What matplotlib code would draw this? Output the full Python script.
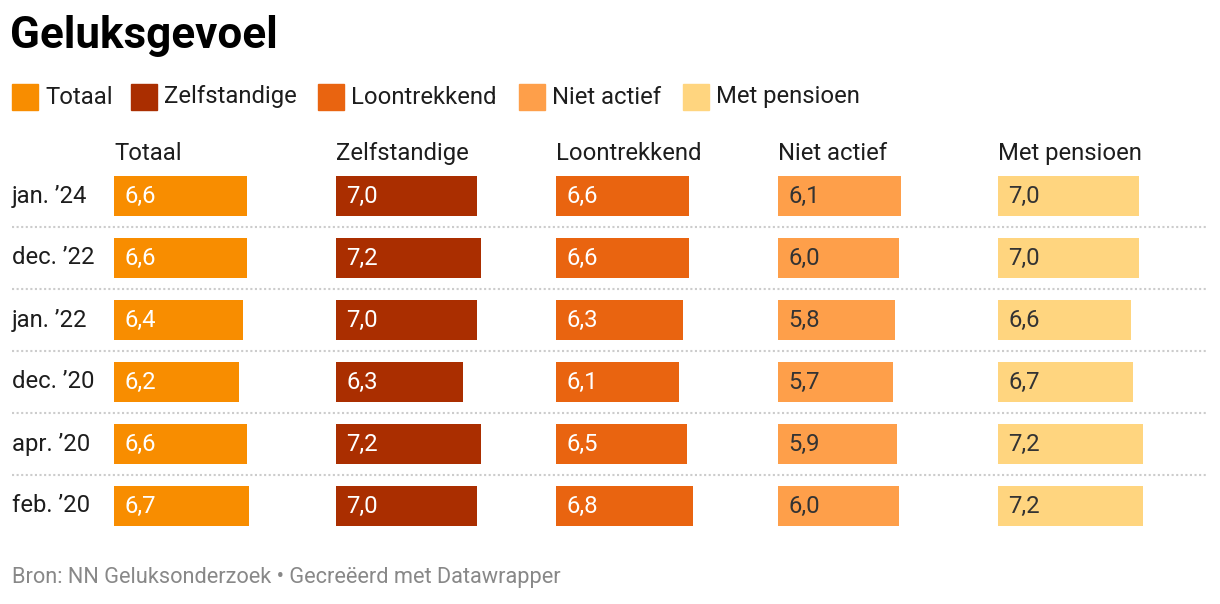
import matplotlib.pyplot as plt
from matplotlib.patches import Rectangle

plt.rcParams['font.family'] = ['Roboto', 'DejaVu Sans']

# Gegevens
perioden = ["jan. \u201924", "dec. \u201922", "jan. \u201922", "dec. \u201920", "apr. \u201920", "feb. \u201920"]
groepen = ["Totaal", "Zelfstandige", "Loontrekkend", "Niet actief", "Met pensioen"]
totaal = [6.6, 6.6, 6.4, 6.2, 6.6, 6.7]
zelfstandige = [7.0, 7.2, 7.0, 6.3, 7.2, 7.0]
loontrekkend = [6.6, 6.6, 6.3, 6.1, 6.5, 6.8]
niet_actief = [6.1, 6.0, 5.8, 5.7, 5.9, 6.0]
met_pensioen = [7.0, 7.0, 6.6, 6.7, 7.2, 7.2]
reeksen = [totaal, zelfstandige, loontrekkend, niet_actief, met_pensioen]

kleuren = ["#f88d00", "#aa2e00", "#e96410", "#fe9f4a", "#ffd57f"]
tekstkleuren = ["white", "white", "white", "#333333", "#333333"]

W, H = 1220, 604
fig = plt.figure(figsize=(W / 100, H / 100), dpi=100)
fs = 17.2

def fx(px):
    return px / W

def fy(px):
    return 1 - px / H

# Titel
fig.text(fx(10), fy(36), "Geluksgevoel", fontsize=31.7, fontweight="bold",
         color="#000000", va="center", ha="left")

# Legenda
leg_x = [12, 131, 318, 519, 683]
for i, naam in enumerate(groepen):
    fig.patches.append(Rectangle((fx(leg_x[i]), fy(110)), fx(26), 26 / H,
                                 transform=fig.transFigure, color=kleuren[i]))
    fig.text(fx(leg_x[i] + 33), fy(97), naam, fontsize=fs, color="#1d1d1d",
             va="center", ha="left")

# Achtergrond-as voor scheidingslijnen en rijlabels
top_px, rij_px = 165, 62
bg = fig.add_axes([0, fy(top_px + rij_px * 6), 1, rij_px * 6 / H])
bg.set_xlim(0, W)
bg.set_ylim(5.5, -0.5)
bg.axis("off")
for i in range(len(perioden) - 1):
    bg.plot([12, 1208], [i + 0.5, i + 0.5], color="#cccccc", lw=1.5,
            linestyle=(0, (1, 1.2)))
for i, p in enumerate(perioden):
    bg.text(12, i, p, fontsize=fs, color="#1d1d1d", va="center", ha="left")

# Kolommen met staven
kol_x = [114, 336, 556, 778, 998]
kol_w = 200
schaal = 20.2  # pixels per eenheid
for k, reeks in enumerate(reeksen):
    ax = fig.add_axes([fx(kol_x[k]), fy(top_px + rij_px * 6), fx(kol_w), rij_px * 6 / H])
    ax.barh(range(len(reeks)), reeks, height=40 / rij_px, color=kleuren[k])
    ax.set_xlim(0, kol_w / schaal)
    ax.set_ylim(5.5, -0.5)
    ax.axis("off")
    ax.set_title(groepen[k], loc="left", fontsize=fs, color="#1d1d1d", pad=3)
    for i, v in enumerate(reeks):
        ax.annotate(f"{v:.1f}".replace(".", ","), (0, i), xytext=(7.5, 0),
                    textcoords="offset points", fontsize=fs,
                    color=tekstkleuren[k], va="center", ha="left")

# Bron
fig.text(fx(12), fy(578), "Bron: NN Geluksonderzoek \u2022 Gecre\u00eberd met Datawrapper",
         fontsize=15.7, color="#888888", va="center", ha="left")

fig.savefig("out.png", dpi=100, facecolor="white")
